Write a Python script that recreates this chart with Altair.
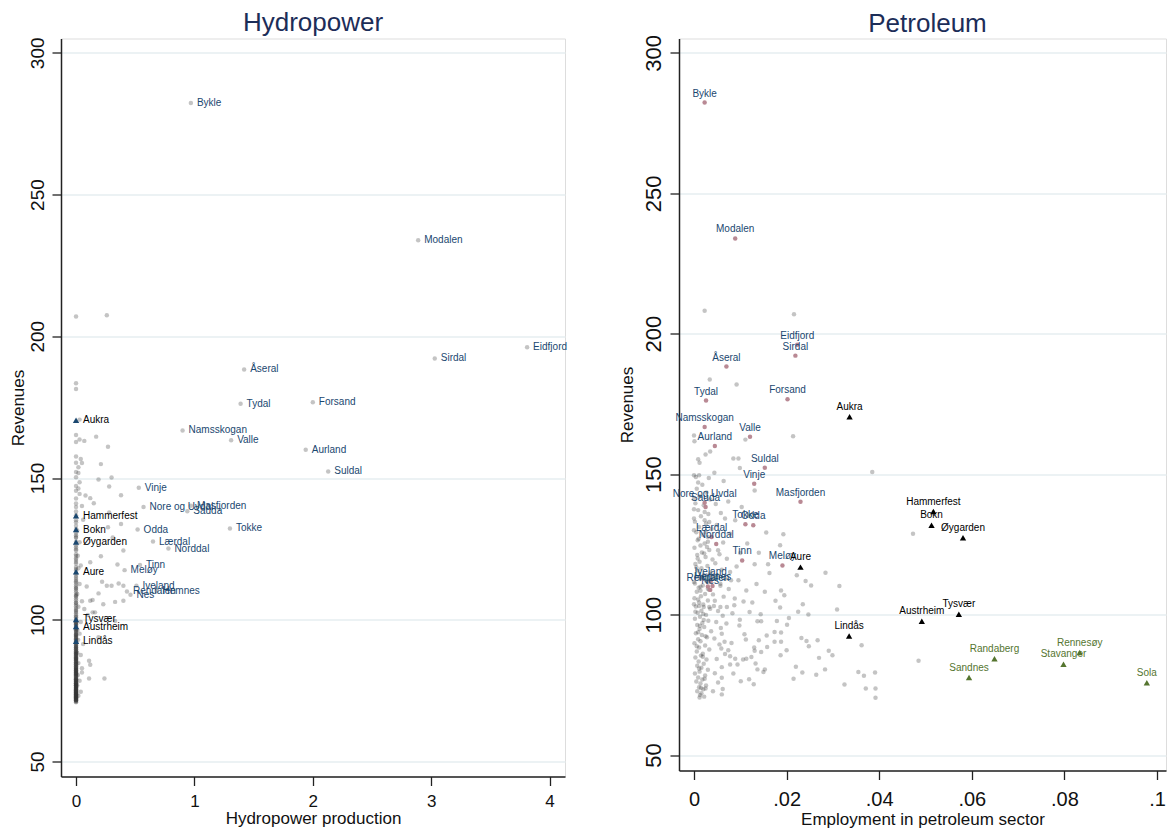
import altair as alt
import pandas as pd

FONT = "Liberation Sans"
NAVY = "#1a476f"
GREEN = "#55752f"
PINK = "#b5838e"

# ---- Labelled hydropower municipalities ----
hydro_names = ["Bykle", "Modalen", "Eidfjord", "Sirdal", "Åseral", "Tydal", "Forsand",
               "Namsskogan", "Valle", "Aurland", "Suldal", "Vinje", "Nore og Uvdal",
               "Masfjorden", "Sauda", "Odda", "Tokke", "Lærdal", "Norddal", "Tinn",
               "Meløy", "Iveland", "Rendalen", "Nes", "Hemnes"]
hydro_prod = [0.97, 2.89, 3.81, 3.03, 1.42, 1.39, 2.00, 0.90, 1.31, 1.94, 2.13, 0.53, 0.57,
              0.97, 0.94, 0.52, 1.30, 0.65, 0.78, 0.54, 0.41, 0.51, 0.43, 0.46, 0.68]
hydro_petro = [0.0023, 0.0089, 0.0223, 0.0219, 0.0070, 0.0026, 0.0202, 0.0023, 0.0121,
               0.0045, 0.0153, 0.0130, 0.0023, 0.0230, 0.0025, 0.0128, 0.0111, 0.0038,
               0.0048, 0.0104, 0.0191, 0.0036, 0.0030, 0.0035, 0.0040]
hydro_rev = [282.3, 233.9, 196.1, 192.2, 188.3, 176.2, 176.7, 166.8, 163.3, 160.0, 152.3,
             146.6, 139.8, 140.2, 138.3, 131.8, 132.2, 127.6, 125.1, 119.3, 117.5, 112.0,
             110.0, 108.8, 110.2]

# ---- Labelled petroleum municipalities ----
petro_names = ["Aukra", "Hammerfest", "Bokn", "Øygarden", "Aure", "Tysvær", "Austrheim", "Lindås"]
petro_emp = [0.0336, 0.0517, 0.0513, 0.0581, 0.0230, 0.0572, 0.0492, 0.0335]
petro_rev = [170.4, 136.7, 131.8, 127.4, 116.9, 100.1, 97.6, 92.4]

green_names = ["Randaberg", "Sandnes", "Stavanger", "Rennesøy", "Sola"]
green_emp = [0.0649, 0.0594, 0.0798, 0.0833, 0.0978]
green_rev = [84.3, 77.6, 82.3, 86.5, 75.7]

# ---- Other municipalities, hydropower panel ----
hydro_zero_rev = [207.0, 183.4, 181.4, 165.2, 162.7, 157.6, 155.4, 152.1, 150.3, 147.2, 145.5,
                  142.8, 141.0, 139.8, 138.2, 136.9, 135.1, 134.4, 133.2, 132.0, 130.6, 129.8,
                  128.9, 127.5, 126.3, 125.6, 124.4, 123.1, 122.5, 121.7, 120.4, 119.8, 118.6,
                  117.9, 116.2, 115.4, 114.8, 113.6, 113.1, 112.4, 111.7, 110.9, 110.3, 109.6,
                  108.8, 108.2, 107.5, 106.9, 106.1, 105.4, 104.8, 104.1, 103.5, 102.7, 102.2,
                  101.6, 100.9, 100.3, 99.5, 98.9, 98.2, 97.6, 96.8, 96.3, 95.7, 95.0, 94.4,
                  93.9, 93.1, 92.6, 91.8, 91.2, 90.7, 90.1, 89.4, 88.9, 88.2, 87.7, 87.1, 86.6,
                  86.0, 85.5, 84.9, 84.4, 83.9, 83.3, 82.8, 82.4, 81.9, 81.5, 81.0, 80.6, 80.1,
                  79.7, 79.2, 78.8, 78.4, 77.9, 77.5, 77.0, 76.6, 76.1, 75.7, 75.3, 74.8, 74.4,
                  73.9, 73.5, 73.1, 72.6, 72.2, 71.7, 71.3, 70.9,
                  99.1, 97.2, 94.8, 92.1, 89.8, 87.4, 85.2, 83.6, 82.1, 80.4, 78.9, 77.3, 76.4,
                  75.1, 74.1, 73.3, 72.4, 71.5, 86.3, 84.2, 81.2, 79.4, 77.7, 75.9, 74.6, 73.7,
                  72.9, 71.9, 98.4, 93.4, 88.6, 83.1, 78.1, 76.9, 75.5, 74.2, 73.8, 72.8, 72.0,
                  71.1, 84.3, 77.6, 82.3, 86.5, 75.7,
                  99.8, 97.9, 96.0, 94.1, 92.4, 90.4, 88.5, 86.8, 85.0, 83.4, 81.7, 80.2, 78.6,
                  77.1, 75.9, 74.9, 73.6, 72.7, 71.6, 96.6, 91.5, 87.9, 84.6, 81.3, 79.0, 76.3,
                  74.3, 72.5, 89.1, 85.8, 82.6, 80.8, 78.3, 76.7, 75.2, 73.4, 71.8, 94.6, 90.9,
                  87.3, 105.9, 103.2, 101.1, 108.5, 111.2, 114.1, 117.4, 121.1, 124.9, 129.2,
                  98.7, 95.3, 92.9, 90.2, 88.0, 85.6, 83.0, 80.9, 78.7, 76.8, 74.5, 72.3, 93.6,
                  89.6, 86.2, 82.0, 79.8, 77.4, 75.0, 73.0]
hydro_other = [(0.03, 170.6), (0.03, 163.6), (0.07, 163.1), (0.17, 164.6), (0.27, 161.0),
               (0.04, 156.7), (0.05, 155.3), (0.21, 154.9), (0.02, 153.8), (0.02, 151.8),
               (0.03, 148.5), (0.03, 144.4), (0.08, 143.8), (0.12, 142.9), (0.15, 141.1),
               (0.19, 149.5), (0.30, 150.2), (0.28, 147.0), (0.38, 143.9), (0.28, 137.8),
               (0.27, 132.6), (0.38, 133.8), (0.31, 129.0), (0.40, 124.4), (0.21, 122.4),
               (0.12, 120.3), (0.35, 119.5), (0.22, 113.4), (0.26, 112.0), (0.30, 112.0),
               (0.36, 112.8), (0.40, 112.0), (0.09, 111.7), (0.19, 109.3), (0.14, 107.0),
               (0.12, 106.7), (0.23, 105.5), (0.33, 106.3), (0.40, 106.7), (0.07, 103.8),
               (0.14, 102.6), (0.16, 102.6), (0.10, 101.7), (0.33, 99.6), (0.19, 93.8),
               (0.11, 85.5), (0.12, 84.1), (0.11, 79.3), (0.24, 79.3), (0.05, 81.4),
               (0.26, 207.4), (0.01, 131.5), (0.015, 122.6), (0.02, 118.2), (0.01, 109.1),
               (0.02, 104.6), (0.012, 96.4), (0.018, 92.9), (0.01, 88.4), (0.02, 84.7),
               (0.015, 80.5), (0.01, 76.8), (0.02, 73.2), (0.03, 127.3), (0.04, 119.1),
               (0.03, 112.6), (0.05, 106.5), (0.04, 99.2), (0.03, 95.1), (0.06, 91.4),
               (0.04, 87.6), (0.05, 82.9), (0.03, 78.5), (0.04, 74.6), (0.06, 135.3),
               (0.05, 140.1), (0.02, 146.3)]

# ---- Other municipalities, petroleum panel ----
petro_other = [(0.0023, 208.2), (0.0216, 206.9), (0.0034, 183.7), (0.0092, 181.9),
               (0.0000, 163.8), (0.0001, 161.7), (0.0025, 157.0), (0.0035, 158.1),
               (0.0009, 155.3), (0.0012, 154.1), (0.0085, 155.6), (0.0096, 155.6),
               (0.0111, 162.3), (0.0214, 163.5), (0.0099, 152.2), (0.0044, 150.5),
               (0.0000, 149.6), (0.0011, 149.6), (0.0032, 148.6), (0.0009, 147.0),
               (0.0064, 147.6), (0.0131, 144.2), (0.0000, 141.5), (0.0074, 140.3),
               (0.0000, 137.5), (0.0023, 136.5), (0.0103, 138.3), (0.0067, 134.2),
               (0.0089, 133.6), (0.0023, 133.6), (0.0033, 133.0), (0.0000, 134.2),
               (0.0000, 130.0), (0.0025, 129.4), (0.0078, 128.8), (0.0156, 129.2),
               (0.0193, 128.6), (0.0030, 125.9), (0.0186, 124.7), (0.0052, 122.9),
               (0.0071, 119.9), (0.0131, 117.9), (0.0160, 117.9), (0.0385, 150.8),
               (0.0473, 128.8), (0.0000, 111.6), (0.0014, 109.9), (0.0032, 111.6),
               (0.0039, 113.4), (0.0050, 114.0), (0.0057, 111.0), (0.0067, 112.8),
               (0.0080, 112.2), (0.0096, 112.2), (0.0113, 108.6), (0.0153, 108.1),
               (0.0188, 108.6), (0.0195, 106.9), (0.0222, 114.0), (0.0241, 112.0),
               (0.0253, 110.4), (0.0284, 114.9), (0.0314, 110.2),
               (0.0000, 103.7), (0.0011, 103.1), (0.0021, 102.7), (0.0033, 102.7),
               (0.0043, 103.1), (0.0057, 102.7), (0.0071, 102.7), (0.0087, 103.3),
               (0.0126, 104.3), (0.0186, 102.5), (0.0235, 103.7), (0.0309, 101.8),
               (0.0225, 101.0), (0.0247, 100.0), (0.0205, 98.8), (0.0144, 100.1),
               (0.0145, 97.6), (0.0099, 98.2), (0.0179, 97.7), (0.0137, 97.6),
               (0.0109, 93.0), (0.0157, 92.6), (0.0174, 93.8), (0.0188, 93.6),
               (0.0201, 96.4), (0.0232, 91.7), (0.0243, 90.6), (0.0248, 88.7),
               (0.0267, 90.9), (0.0140, 90.9), (0.0130, 88.3), (0.0131, 87.1),
               (0.0145, 86.7), (0.0200, 87.3), (0.0158, 88.5), (0.0113, 84.3),
               (0.0124, 84.9), (0.0106, 84.0), (0.0188, 90.3), (0.0174, 90.3),
               (0.0187, 85.5), (0.0220, 81.4), (0.0234, 79.4), (0.0264, 78.6),
               (0.0283, 80.5), (0.0291, 87.1), (0.0299, 85.5), (0.0270, 84.6),
               (0.0362, 89.1), (0.0355, 79.6), (0.0367, 78.2), (0.0391, 79.4),
               (0.0371, 73.7), (0.0392, 73.7), (0.0392, 70.4), (0.0325, 75.1),
               (0.0215, 77.2), (0.0137, 80.5), (0.0153, 80.5), (0.0133, 82.6),
               (0.0150, 79.6), (0.0101, 76.3), (0.0119, 77.0), (0.0129, 75.2),
               (0.0078, 82.2), (0.0085, 79.0), (0.0094, 82.2), (0.0060, 77.5),
               (0.0062, 73.5), (0.0060, 71.6), (0.0041, 72.7), (0.0025, 73.7),
               (0.0012, 70.5), (0.0074, 87.3), (0.0078, 85.2), (0.0066, 90.3),
               (0.0089, 84.3), (0.0081, 89.9), (0.0060, 93.2), (0.0059, 87.9),
               (0.0485, 83.6),
               (0.0004, 149.0), (0.0018, 146.2), (0.0006, 144.8), (0.0027, 143.5),
               (0.0012, 142.1), (0.0035, 141.0), (0.0003, 139.6), (0.0021, 138.9),
               (0.0009, 137.2), (0.0031, 135.8), (0.0015, 135.0), (0.0002, 133.1),
               (0.0026, 132.4), (0.0011, 131.2), (0.0038, 130.5), (0.0005, 129.3),
               (0.0019, 128.4), (0.0030, 127.6), (0.0008, 126.5), (0.0023, 125.3),
               (0.0014, 124.6), (0.0001, 123.8), (0.0033, 123.0), (0.0017, 122.1),
               (0.0007, 121.2), (0.0025, 120.5), (0.0040, 119.6), (0.0012, 118.8),
               (0.0003, 118.0), (0.0029, 117.3), (0.0016, 116.5), (0.0008, 115.7),
               (0.0036, 115.0), (0.0021, 114.2), (0.0005, 113.5), (0.0013, 112.7),
               (0.0027, 111.9), (0.0002, 111.1), (0.0019, 110.4), (0.0010, 109.6),
               (0.0033, 108.8), (0.0006, 108.1), (0.0024, 107.3), (0.0015, 106.5),
               (0.0001, 105.8), (0.0030, 105.0), (0.0011, 104.3), (0.0020, 103.6),
               (0.0004, 102.9), (0.0035, 102.1), (0.0016, 101.4), (0.0008, 100.7),
               (0.0026, 99.9), (0.0013, 99.2), (0.0002, 98.5), (0.0031, 97.8),
               (0.0018, 97.0), (0.0007, 96.3), (0.0022, 95.6), (0.0012, 94.9),
               (0.0037, 94.1), (0.0004, 93.4), (0.0017, 92.7), (0.0028, 91.9),
               (0.0009, 91.2), (0.0014, 90.5), (0.0001, 89.8), (0.0024, 89.0),
               (0.0011, 88.3), (0.0033, 87.6), (0.0006, 86.9), (0.0019, 86.1),
               (0.0015, 85.4), (0.0003, 84.7), (0.0027, 84.0), (0.0010, 83.3),
               (0.0021, 82.5), (0.0007, 81.8), (0.0016, 81.1), (0.0030, 80.4),
               (0.0012, 79.7), (0.0002, 79.0), (0.0024, 78.3), (0.0009, 77.6),
               (0.0018, 76.9), (0.0005, 76.2), (0.0014, 75.5), (0.0026, 74.8),
               (0.0011, 74.1), (0.0020, 73.4), (0.0007, 72.7), (0.0016, 72.0),
               (0.0013, 71.4), (0.0022, 70.8),
               (0.0010, 127.0), (0.0022, 121.8), (0.0005, 116.9), (0.0017, 113.0),
               (0.0030, 109.2), (0.0009, 105.4), (0.0020, 100.2), (0.0013, 96.0),
               (0.0025, 92.3), (0.0006, 88.7), (0.0019, 85.0), (0.0011, 80.8),
               (0.0023, 77.2), (0.0015, 73.9), (0.0008, 120.0), (0.0028, 124.1),
               (0.0014, 108.5), (0.0003, 101.0), (0.0021, 98.1), (0.0009, 93.7),
               (0.0045, 104.9), (0.0052, 101.3), (0.0062, 99.6), (0.0048, 97.4),
               (0.0058, 95.2), (0.0070, 96.8), (0.0083, 100.5), (0.0044, 91.5),
               (0.0055, 89.4), (0.0067, 86.0), (0.0049, 84.2), (0.0060, 81.3),
               (0.0045, 79.1), (0.0052, 75.8), (0.0041, 107.2), (0.0057, 110.3),
               (0.0064, 106.4), (0.0075, 109.1), (0.0088, 105.7), (0.0046, 118.3),
               (0.0055, 121.5), (0.0063, 125.7), (0.0049, 131.9), (0.0058, 136.2),
               (0.0047, 139.4), (0.0060, 116.0), (0.0078, 115.2), (0.0092, 117.1),
               (0.0100, 121.9), (0.0115, 125.3), (0.0107, 104.7), (0.0120, 100.9),
               (0.0098, 96.1), (0.0112, 91.1), (0.0135, 110.9), (0.0163, 114.8),
               (0.0176, 104.9), (0.0140, 122.0)]

# ---- Data frames ----
hydro_lab = pd.DataFrame({"name": hydro_names, "hx": hydro_prod, "px": hydro_petro, "rev": hydro_rev})
petro_lab = pd.DataFrame({"name": petro_names, "hx": [0.0] * len(petro_names), "px": petro_emp, "rev": petro_rev})
green_lab = pd.DataFrame({"name": green_names, "px": green_emp, "rev": green_rev})
left_bg = pd.concat([
    pd.DataFrame({"hx": [0.0] * len(hydro_zero_rev), "rev": hydro_zero_rev}),
    pd.DataFrame(hydro_other, columns=["hx", "rev"]),
    hydro_lab[["hx", "rev"]],
], ignore_index=True)
right_bg = pd.DataFrame(petro_other, columns=["px", "rev"])

# ---- Scales and axes ----
lx_scale = alt.Scale(domain=[-0.127, 4.13], nice=False, zero=False)
ly_scale = alt.Scale(domain=[44.7, 305.05], nice=False, zero=False)
rx_scale = alt.Scale(domain=[-0.00324, 0.10194], nice=False, zero=False)
ry_scale = alt.Scale(domain=[44.5, 305.1], nice=False, zero=False)

common_axis = dict(domainColor="#222222", domainWidth=1.5, tickColor="#222222", tickWidth=1.3,
                   tickSize=9, labelFont=FONT, titleFont=FONT, labelColor="#111111",
                   titleColor="#111111", titleFontWeight="normal", labelFlush=False,
                   labelOverlap=False)

lx_axis = alt.Axis(values=[0, 1, 2, 3, 4], format="d", title="Hydropower production",
                   grid=False, labelFontSize=17, titleFontSize=17, labelPadding=8,
                   titlePadding=1, **common_axis)
ly_axis = alt.Axis(values=[50, 100, 150, 200, 250, 300], title="Revenues", grid=True,
                   gridColor="#e6eef0", gridWidth=1.6, labelAngle=270, labelAlign="center",
                   labelBaseline="bottom", labelFontSize=19, titleFontSize=17,
                   labelPadding=5, titlePadding=1, **common_axis)
rx_axis = alt.Axis(values=[0, 0.02, 0.04, 0.06, 0.08, 0.1],
                   labelExpr="datum.value == 0 ? '0' : replace(format(datum.value, '.2~f'), '0.', '.')",
                   title="Employment in petroleum sector", grid=False, labelFontSize=20,
                   titleFontSize=17, labelPadding=10, titlePadding=2, **common_axis)
ry_axis = alt.Axis(values=[50, 100, 150, 200, 250, 300], title="Revenues", grid=True,
                   gridColor="#e6eef0", gridWidth=1.6, labelAngle=270, labelAlign="center",
                   labelBaseline="bottom", labelFontSize=22, titleFontSize=17,
                   labelPadding=5, titlePadding=6, **common_axis)


def lenc(**kw):
    return dict(x=alt.X("hx:Q", scale=lx_scale, axis=lx_axis),
                y=alt.Y("rev:Q", scale=ly_scale, axis=ly_axis), **kw)


def renc(**kw):
    return dict(x=alt.X("px:Q", scale=rx_scale, axis=rx_axis),
                y=alt.Y("rev:Q", scale=ry_scale, axis=ry_axis), **kw)


# ---- Left panel ----
l_pts = alt.Chart(left_bg).mark_circle(size=20, color="#333333", opacity=0.29).encode(**lenc())
l_hlab = alt.Chart(hydro_lab).mark_text(align="left", baseline="middle", dx=6, fontSize=10,
                                         font=FONT, color=NAVY).encode(**lenc(text="name:N"))
l_tri = alt.Chart(petro_lab).mark_point(shape="triangle-up", size=40, filled=True, color=NAVY,
                                        opacity=1).encode(**lenc())
l_plab = alt.Chart(petro_lab).mark_text(align="left", baseline="middle", dx=7, fontSize=10,
                                         font=FONT, color="#000000").encode(**lenc(text="name:N"))

left = alt.layer(l_pts, l_tri, l_hlab, l_plab).properties(
    width=504, height=738,
    title=alt.TitleParams("Hydropower", font=FONT, fontSize=26, fontWeight="normal",
                          color="#1c2d58", anchor="middle", offset=0.5))

# ---- Right panel ----
r_pts = alt.Chart(right_bg).mark_circle(size=20, color="#333333", opacity=0.29).encode(**renc())
r_hpts = alt.Chart(hydro_lab).mark_circle(size=20, color=PINK, opacity=0.95).encode(**renc())
r_hlab = alt.Chart(hydro_lab).mark_text(align="center", baseline="middle", dy=-9, fontSize=10,
                                         font=FONT, color=NAVY).encode(**renc(text="name:N"))
r_tri = alt.Chart(petro_lab).mark_point(shape="triangle-up", size=40, filled=True,
                                        color="#000000", opacity=1).encode(**renc())
r_plab = alt.Chart(petro_lab).mark_text(align="center", baseline="middle", dy=-10, fontSize=10,
                                         font=FONT, color="#000000").encode(**renc(text="name:N"))
r_gtri = alt.Chart(green_lab).mark_point(shape="triangle-up", size=40, filled=True,
                                         color=GREEN, opacity=1).encode(**renc())
r_glab = alt.Chart(green_lab).mark_text(align="center", baseline="middle", dy=-10, fontSize=10,
                                         font=FONT, color=GREEN).encode(**renc(text="name:N"))

right = alt.layer(r_pts, r_hpts, r_tri, r_gtri, r_hlab, r_plab, r_glab).properties(
    width=487, height=732,
    title=alt.TitleParams("Petroleum", font=FONT, fontSize=26, fontWeight="normal",
                          color="#1c2d58", anchor="middle", offset=-2.5, dx=5))

chart = alt.hconcat(left, right, spacing=114, bounds="flush").properties(
    padding={"top": 1.5, "left": 0, "right": 0, "bottom": 0}
).configure_view(stroke=None).configure(background="white")

chart.save("out.html", embed_options={"renderer": "svg", "actions": False})
